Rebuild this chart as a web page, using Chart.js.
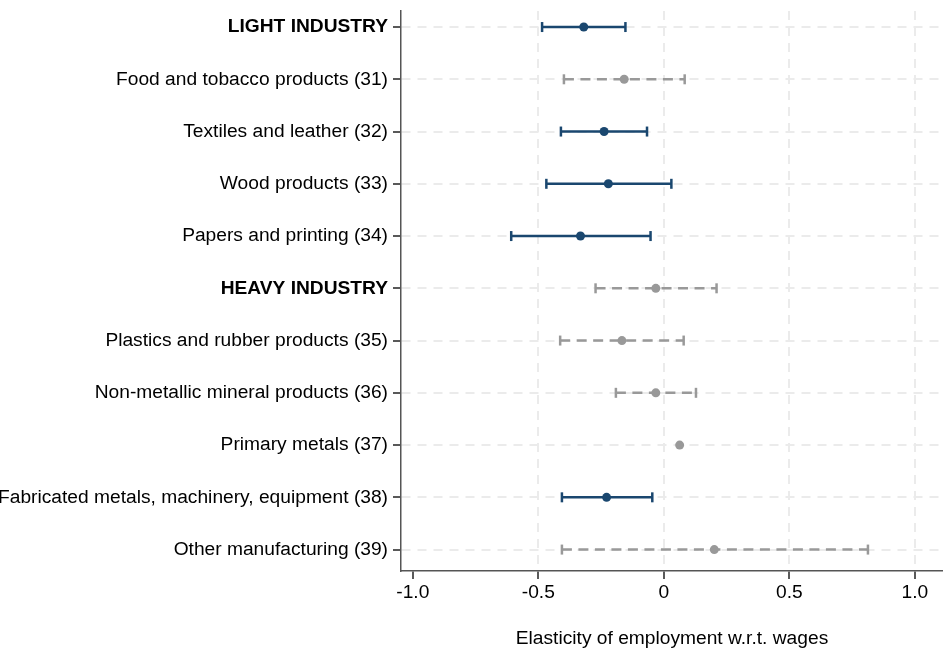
<!DOCTYPE html>
<html>
<head>
<meta charset="utf-8">
<script src="https://cdn.jsdelivr.net/npm/chart.js@4/dist/chart.umd.min.js"></script>
<style>
html,body{margin:0;padding:0;background:#fff;}
#wrap{position:relative;width:943px;height:654px;}
</style>
</head>
<body>
<div id="wrap"><canvas id="c" width="943" height="654"></canvas></div>
<script>
// ---- data ----
const categories = [
  "LIGHT INDUSTRY",
  "Food and tobacco products (31)",
  "Textiles and leather (32)",
  "Wood products (33)",
  "Papers and printing (34)",
  "HEAVY INDUSTRY",
  "Plastics and rubber products (35)",
  "Non-metallic mineral products (36)",
  "Primary metals (37)",
  "Fabricated metals, machinery, equipment (38)",
  "Other manufacturing (39)"
];
const boldRows = [true, false, false, false, false, true, false, false, false, false, false];
const estimates = [-0.319, -0.158, -0.238, -0.221, -0.332, -0.032, -0.167, -0.032, 0.063, -0.228, 0.201];
const ciLow     = [-0.485, -0.398, -0.410, -0.468, -0.608, -0.272, -0.413, -0.191, null, -0.406, -0.406];
const ciHigh    = [-0.153,  0.083, -0.067,  0.030, -0.053,  0.210,  0.079,  0.128, null, -0.046,  0.813];
const significant = [true, false, true, true, true, false, false, false, false, true, false];
const xTicks = [-1.0, -0.5, 0, 0.5, 1.0];
const xTickLabels = ["-1.0", "-0.5", "0", "0.5", "1.0"];
const xTitle = "Elasticity of employment w.r.t. wages";

// ---- styling ----
const NAVY = "#1a476f";
const GRAY = "#999999";
const FONT = "'Liberation Sans', Arial, sans-serif";
const FSIZE = 19.2;

const datasets = [];
categories.forEach((c, i) => {
  const col = significant[i] ? NAVY : GRAY;
  if (ciLow[i] !== null && ciHigh[i] !== null) {
    datasets.push({
      type: "line",
      data: [{x: ciLow[i], y: i + 1}, {x: ciHigh[i], y: i + 1}],
      borderColor: col,
      borderWidth: 2.5,
      borderDash: significant[i] ? [] : [10, 6.5],
      pointStyle: "line",
      rotation: 90,
      pointRadius: 5,
      pointBorderWidth: 2.5,
      pointBorderColor: col,
      pointBackgroundColor: col,
      pointHoverRadius: 5,
      fill: false,
      order: 2
    });
  }
});
datasets.push({
  type: "scatter",
  data: estimates.map((v, i) => ({x: v, y: i + 1})),
  pointRadius: 4.5,
  pointBorderWidth: 0,
  pointBackgroundColor: estimates.map((v, i) => significant[i] ? NAVY : GRAY),
  pointBorderColor: estimates.map((v, i) => significant[i] ? NAVY : GRAY),
  order: 1
});

new Chart(document.getElementById("c"), {
  type: "scatter",
  data: { datasets },
  options: {
    responsive: false,
    animation: false,
    events: [],
    layout: { autoPadding: false, padding: { top: 11, right: 0, bottom: 4, left: 0 } },
    plugins: { legend: { display: false }, tooltip: { enabled: false } },
    scales: {
      x: {
        type: "linear",
        min: -1.047,
        max: 1.112,
        afterBuildTicks: s => { s.ticks = xTicks.map(v => ({ value: v })); },
        afterFit: s => { s.height = 79; s.paddingLeft = 0; s.paddingRight = 0; },
        ticks: {
          color: "#000",
          font: { family: FONT, size: FSIZE },
          padding: 2,
          maxRotation: 0,
          autoSkip: false,
          callback: (v) => xTickLabels[xTicks.indexOf(v)] ?? ""
        },
        grid: {
          color: ctx => (ctx.tick && ctx.tick.value === -1) ? "rgba(0,0,0,0)" : "#ebebeb",
          lineWidth: 2,
          tickColor: "#222",
          tickLength: 8,
          tickWidth: 1.5,
          tickBorderDash: [0, 0]
        },
        border: { display: true, color: "#555", width: 1.5, dash: [9, 7] },
        title: {
          display: true,
          text: xTitle,
          color: "#000",
          font: { family: FONT, size: FSIZE },
          padding: { top: 0, bottom: 0 }
        }
      },
      y: {
        type: "linear",
        reverse: true,
        min: 0.693,
        max: 11.41,
        afterBuildTicks: s => { s.ticks = categories.map((c, i) => ({ value: i + 1 })); },
        afterFit: s => { s.width = 401; s.paddingTop = 0; s.paddingBottom = 0; },
        ticks: {
          color: "#000",
          padding: 5,
          autoSkip: false,
          font: ctx => ({ family: FONT, size: FSIZE, weight: (ctx.tick && boldRows[ctx.tick.value - 1]) ? "bold" : "normal" }),
          callback: (v) => categories[v - 1] ?? ""
        },
        grid: {
          color: "#ebebeb",
          lineWidth: 2,
          tickColor: "#222",
          tickLength: 8,
          tickWidth: 1.5,
          tickBorderDash: [0, 0]
        },
        border: { display: true, color: "#555", width: 1.5, dash: [9, 7] }
      }
    }
  }
});
</script>
</body>
</html>
